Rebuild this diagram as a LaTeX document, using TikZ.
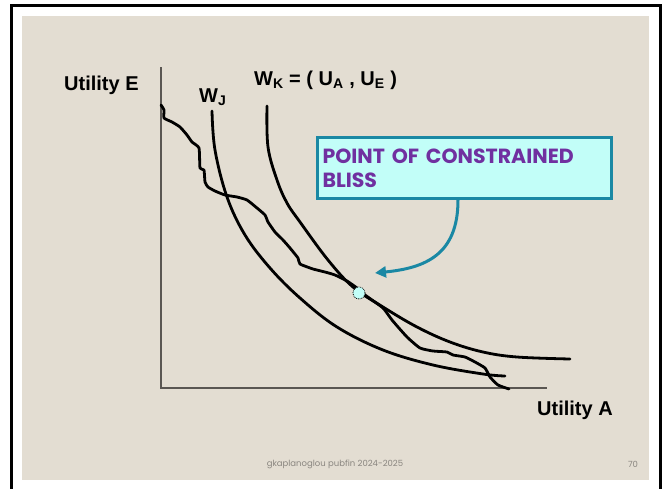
\documentclass[tikz,border=0pt]{standalone}
\usepackage{fontspec}
\setmainfont{Liberation Sans}
\newfontfamily\popfont{Poppins}
\usetikzlibrary{arrows.meta}
\definecolor{beige}{HTML}{E3DDD2}
\definecolor{teal1}{HTML}{1A88A4}
\definecolor{cyanfill}{HTML}{C2FEF8}
\definecolor{purp}{HTML}{7030A0}
\definecolor{axisgrey}{HTML}{5A5652}
\definecolor{footgrey}{HTML}{8A8680}
\tikzset{
  curve/.style={line width=2.8pt, line cap=round, line join=round},
  axisline/.style={line width=1.3pt, draw=axisgrey},
  lab/.style={font=\bfseries\fontsize{20}{22}\selectfont, inner sep=0pt, anchor=west},
  callout/.style={draw=teal1, line width=3pt, fill=cyanfill, text=purp, align=left,
    font=\popfont\bfseries\fontsize{20.5}{24}\selectfont, minimum width=292pt, minimum height=61pt,
    text width=284pt, inner sep=5pt, anchor=north west},
  pointer/.style={draw=teal1, line width=3pt, -{Triangle[length=11pt,width=11pt]}},
  foot/.style={font=\popfont\fontsize{8.5}{9}\selectfont, text=footgrey, inner sep=0pt}
}
\begin{document}
\begin{tikzpicture}[x=1pt,y=-1pt]
\useasboundingbox (0,0) rectangle (667,488);
\fill[white] (0,0) rectangle (667,488);
% frame
\draw[line width=3pt] (11,490) -- (11,5) -- (660,5) -- (660,490);
\fill[beige] (22,16) rectangle (649,480);
% axes
\coordinate (origin) at (161,388);
\coordinate (ytop) at (161,67);
\coordinate (xend) at (547,388);
\draw[axisline] (ytop) -- (origin) -- (xend);
% labels
\node[lab] (ue) at (64,85) {Utility E};
\node[lab] (ua) at (537,410) {Utility A};
\node[lab] (wj) at (199,97) {W\textsubscript{J}};
\node[lab] (wk) at (254,80) {W\textsubscript{K} = ( U\textsubscript{A} , U\textsubscript{E} )};
% W_J
\draw[curve] plot[smooth, tension=0.6] coordinates {(212,111) (215,150) (227,197) (245,235) (270,268) (300,298) (337,327) (383,350) (433,365) (483,374) (505,376)};
% W_K
\draw[curve] plot[smooth, tension=0.6] coordinates {(267,106) (268,147) (277,180) (287,203) (300,222) (328,260) (353,287) (383,307) (417,327) (450,342) (483,352) (517,357) (570,359)};
% constraint frontier
\draw[curve] plot[smooth, tension=0.3] coordinates {(161,105) (164,110) (164,118) (172,122) (180,127) (187,135) (192,142) (199,148) (200,168) (204,170) (205,182) (208,187) (215,191) (225,195) (237,197) (247,200) (257,208) (265,215) (268,222) (275,232) (283,240) (290,248) (298,258) (300,264) (313,269) (325,272) (335,275) (347,281) (357,288) (365,295) (383,308) (392,320) (407,337) (420,348) (433,351) (447,352) (453,355) (465,357) (475,362) (485,368) (490,377) (498,385) (509,389)};
% bliss point
\node[circle, fill=cyanfill, draw=black, densely dotted, line width=0.8pt, minimum size=12pt, inner sep=0pt] (bliss) at (359,293) {};
% callout
\node[callout] (box) at (316,136) {POINT OF CONSTRAINED\\BLISS};
\coordinate (tip) at (375,273);
\draw[pointer] (box.south west) ++(142,0) .. controls (458,255) and (425,268) .. (tip);
% footer
\node[foot] (ft) at (335,464) {gkaplanoglou pubfin 2024-2025};
\node[foot] (pg) at (633,464) {70};
\end{tikzpicture}
\end{document}
